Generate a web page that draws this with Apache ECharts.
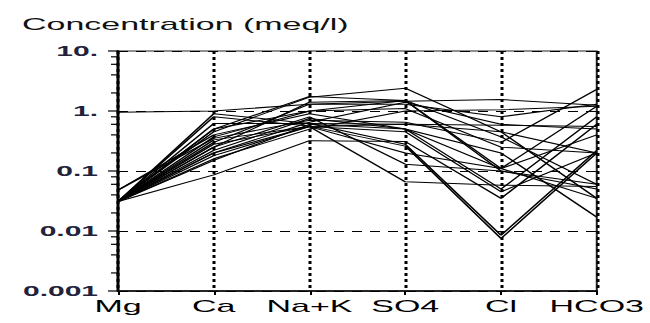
<!DOCTYPE html>
<html>
<head>
<meta charset="utf-8">
<script src="https://cdn.jsdelivr.net/npm/echarts@6.0.0/dist/echarts.min.js"></script>
<style>
  html, body { margin: 0; padding: 0; background: #fff; overflow: hidden; }
  /* the reference is a 2x horizontally stretched plot, so draw half width and stretch */
  #main { width: 325px; height: 323px; transform: scaleX(2); transform-origin: 0 0; }
</style>
</head>
<body>
<div id="main"></div>
<script>
const ions = ['Mg', 'Ca', 'Na+K', 'SO4', 'Cl', 'HCO3'];
const yTickLabels = ['0.001', '0.01', '0.1', '1.', '10.'];
const minorSteps = [2, 4, 6, 8];
const decades = [0.001, 0.01, 0.1, 1];

// one row per water sample, values in meq/l (Mg, Ca, Na+K, SO4, Cl, HCO3)
const W01 = [0.95, 1.0, 1.3, 1.45, 1.55, 1.25];
const W02 = [0.031, 0.9, 0.62, 0.28, 0.0085, 0.22];
const W03 = [0.031, 0.8, 0.56, 0.26, 0.0075, 0.2];
const W04 = [0.031, 0.5, 1.75, 1.5, 0.1, 0.05];
const W05 = [0.031, 0.45, 1.7, 2.4, 0.45, 0.035];
const W06 = [0.031, 0.25, 1.4, 1.5, 0.11, 1.2];
const W07 = [0.031, 0.2, 0.65, 1.4, 0.6, 0.5];
const W08 = [0.048, 0.35, 0.7, 0.65, 0.3, 2.3];
const W09 = [0.031, 0.15, 0.6, 0.5, 0.05, 0.8];
const W10 = [0.031, 0.2, 0.55, 0.066, 0.058, 0.055];
const W11 = [0.031, 0.086, 0.32, 0.31, 0.035, 0.6];
const W12 = [0.031, 0.62, 0.62, 0.6, 0.58, 0.55];
const W13 = [0.031, 0.37, 1.0, 1.1, 0.25, 0.2];
const W14 = [0.031, 0.28, 0.55, 0.2, 0.11, 0.4];
const W15 = [0.031, 0.22, 0.75, 0.5, 0.2, 0.017];
const W16 = [0.031, 0.18, 0.55, 0.45, 0.045, 0.2];
const W17 = [0.031, 0.3, 1.3, 1.3, 0.8, 1.3];
const W18 = [0.048, 0.4, 0.9, 0.5, 0.11, 0.035];
const W19 = [0.031, 0.25, 0.8, 0.13, 0.1, 0.06];
const W20 = [0.031, 0.5, 1.0, 1.5, 0.37, 0.06];
const W21 = [0.031, 0.33, 0.55, 0.6, 0.45, 0.2];
const W22 = [0.031, 0.16, 0.5, 1.0, 1.05, 1.2];

const samples = [W01, W02, W03, W04, W05, W06, W07, W08, W09, W10, W11,
                 W12, W13, W14, W15, W16, W17, W18, W19, W20, W21, W22];

const font = "'Liberation Sans', Arial, sans-serif";

// log ticks drawn by a custom series: major at each decade, minor at 2,4,6,8
let tickData = [];
decades.forEach(function (d) {
  tickData.push([0, d, 5]);
  minorSteps.forEach(function (m) { tickData.push([0, d * m, 3.5]); });
});
tickData.push([0, 10, 5]);

let series = samples.map(function (row, i) {
  return {
    name: 'W' + (i + 1),
    type: 'line',
    data: row,
    symbol: 'none',
    silent: true,
    lineStyle: { color: '#000', width: 1 },
  };
});

series.push({
  type: 'custom',
  silent: true,
  clip: false,
  z: 10,
  data: tickData,
  encode: { x: 0, y: 1 },
  renderItem: function (params, api) {
    const p = api.coord([api.value(0), api.value(1)]);
    const len = api.value(2);
    return {
      type: 'line',
      shape: { x1: p[0] - len, y1: p[1], x2: p[0], y2: p[1] },
      style: { stroke: '#000', lineWidth: 1.2 },
    };
  },
});

const option = {
  animation: false,
  title: {
    text: 'Concentration (meq/l)',
    left: 6,
    top: 11,
    textStyle: { fontFamily: font, fontSize: 17, fontWeight: 'normal', color: '#111' },
  },
  grid: {
    left: 59,
    right: 23.5,
    top: 51,
    bottom: 32,
    show: true,
    borderColor: '#222',
    borderWidth: 1,
  },
  xAxis: {
    type: 'category',
    data: ions,
    boundaryGap: false,
    axisLine: { lineStyle: { color: '#000', width: 1.5 } },
    axisTick: { show: true, interval: 0, length: 4, lineStyle: { color: '#000', width: 1 } },
    axisLabel: { interval: 0, fontFamily: font, fontSize: 17, color: '#000', margin: 7 },
    splitLine: { show: true, interval: 0, lineStyle: { color: '#000', width: 1.5, type: [3, 3] } },
  },
  yAxis: {
    type: 'log',
    logBase: 10,
    min: 0.001,
    max: 10,
    axisLine: { show: true, onZero: false, lineStyle: { color: '#000', width: 1.5 } },
    axisTick: { show: false },
    axisLabel: {
      fontFamily: font,
      fontSize: 15,
      fontWeight: 'bold',
      color: '#22223a',
      margin: 10,
      formatter: function (v) {
        const i = Math.round(Math.log10(v)) + 3;
        return yTickLabels[i];
      },
    },
    splitLine: { show: true, lineStyle: { color: '#000', width: 1, type: [5, 4] } },
  },
  series: series,
};

const chart = echarts.init(document.getElementById('main'), null, { renderer: 'svg' });
chart.setOption(option);
</script>
</body>
</html>
